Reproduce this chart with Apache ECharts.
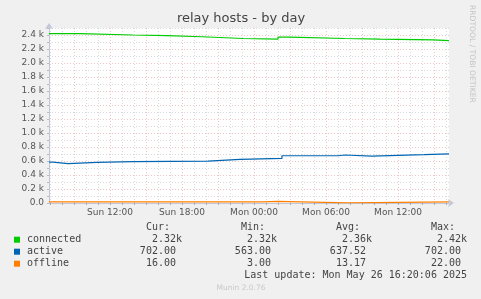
<!DOCTYPE html>
<html><head><meta charset="utf-8">
<script src="https://cdn.jsdelivr.net/npm/echarts@6/dist/echarts.min.js"></script>
<style>html,body{margin:0;padding:0;background:#f0f0f0;}#c{width:481px;height:299px;}</style>
</head><body><div id="c"></div>
<script>
const chartTitle = 'relay hosts - by day';
const seriesNames = ['connected', 'active', 'offline'];
const seriesColors = ['#00cc00', '#0066b3', '#ff8000'];
// hours since Sun 00:00
const connectedTimes = [6.917, 9.5, 13.92, 16.75, 19.67, 23.08, 26.0, 27.0, 31.58, 34.5, 38.92, 40.25];
const connectedValues = [2420, 2400, 2390, 2375, 2350, 2340, 2370, 2350, 2340, 2330, 2320, 2320];
const activeTimes = [6.917, 7.25, 8.5, 10.92, 13.92, 20.17, 22.83, 26.33, 31.0, 31.58, 33.83, 38.17, 40.25];
const activeValues = [585, 563, 580, 590, 597, 623, 637, 675, 686, 671, 690, 702, 702];
const offlineTimes = [6.917, 24.67, 26.0, 31.83, 40.25];
const offlineValues = [15, 22, 3, 16, 16];
const xLabelHours = [12, 18, 24, 30, 36];
const xTickLabels = ['Sun 12:00', 'Sun 18:00', 'Mon 00:00', 'Mon 06:00', 'Mon 12:00'];
const xTickHours = [7,8,9,10,11,12,13,14,15,16,17,18,19,20,21,22,23,24,25,26,27,28,29,30,31,32,33,34,35,36,37,38,39,40];
const legendHeaders = ['Cur:', 'Min:', 'Avg:', 'Max:'];
const legendStats = [
  ['2.32k', '2.32k', '2.36k', '2.42k'],
  ['702.00 ', '563.00 ', '637.52 ', '702.00 '],
  ['16.00 ', '3.00 ', '13.17 ', '22.00 ']
];
const lastUpdate = 'Last update: Mon May 26 16:20:06 2025';
const footer = 'Munin 2.0.76';
const sideText = 'RRDTOOL / TOBI OETIKER';

const timesList = [connectedTimes, activeTimes, offlineTimes];
const valuesList = [connectedValues, activeValues, offlineValues];

const GRID_MINOR = 'rgba(165,165,180,0.42)';
const GRID_MAJOR = 'rgba(220,135,135,0.48)';
const AXIS_C = '#c2c6da';
const MONO = '"DejaVu Sans Mono", monospace';
const SANS = '"DejaVu Sans", sans-serif';

const chart = echarts.init(document.getElementById('c'), null, {renderer: 'canvas'});

const graphics = [];
graphics.push({type: 'text', x: 241, y: 19, style: {text: chartTitle, align: 'center', verticalAlign: 'middle', font: '13px ' + SANS, fill: '#444'}});
graphics.push({type: 'text', x: 472, y: 5, rotation: -Math.PI / 2, style: {text: sideText, align: 'left', verticalAlign: 'middle', font: '7.6px ' + SANS, fill: '#c4c4c4'}});
const rowY = [239.7, 251.7, 263.7];
const headerX = [146, 241, 336, 431];
const valueRight = [182, 277, 372, 467];
legendHeaders.forEach((h, i) => {
  graphics.push({type: 'text', x: headerX[i], y: 227.7, style: {text: h, align: 'left', verticalAlign: 'middle', font: '10px ' + MONO, fill: '#444'}});
});
seriesNames.forEach((n, r) => {
  graphics.push({type: 'rect', shape: {x: 14, y: rowY[r] - 3, width: 6, height: 6}, style: {fill: seriesColors[r]}});
  graphics.push({type: 'text', x: 27, y: rowY[r], style: {text: n, align: 'left', verticalAlign: 'middle', font: '10px ' + MONO, fill: '#444'}});
  legendStats[r].forEach((s, i) => {
    graphics.push({type: 'text', x: valueRight[i], y: rowY[r], style: {text: s, align: 'right', verticalAlign: 'middle', font: '10px ' + MONO, fill: '#444'}});
  });
});
graphics.push({type: 'text', x: 467, y: 275.7, style: {text: lastUpdate, align: 'right', verticalAlign: 'middle', font: '10px ' + MONO, fill: '#444'}});
graphics.push({type: 'text', x: 241, y: 288, style: {text: footer, align: 'center', verticalAlign: 'middle', font: '7.5px ' + SANS, fill: '#c8c8c8'}});

chart.setOption({
  backgroundColor: '#f0f0f0',
  animation: false,
  grid: {left: 49, top: 28, width: 400, height: 175, show: true, backgroundColor: '#ffffff', borderWidth: 0, containLabel: false},
  xAxis: {
    type: 'value', min: 6.917, max: 40.25,
    axisLine: {show: true, lineStyle: {color: AXIS_C, width: 1}, symbol: ['none', 'arrow'], symbolSize: [6, 6], symbolOffset: [0, 5]},
    axisTick: {show: true, customValues: xTickHours, length: 2, lineStyle: {color: '#aaa'}},
    axisLabel: {
      customValues: xLabelHours, margin: 5, fontSize: 9, fontFamily: SANS, color: '#555',
      formatter: v => { const i = xLabelHours.findIndex(h => Math.abs(h - v) < 0.01); return i >= 0 ? xTickLabels[i] : ''; }
    },
    splitLine: {show: true, lineStyle: {color: [GRID_MINOR, GRID_MINOR, GRID_MAJOR], width: 1, type: [1, 2]}}
  },
  yAxis: {
    type: 'value', min: 0, max: 2500, interval: 100,
    axisLine: {show: true, lineStyle: {color: AXIS_C, width: 1}, symbol: ['none', 'arrow'], symbolSize: [6, 6], symbolOffset: [0, 5]},
    axisTick: {show: true, length: 2, lineStyle: {color: '#bbb'}},
    axisLabel: {
      margin: 5, fontSize: 9, fontFamily: SANS, color: '#555',
      formatter: v => (v % 200 === 0 ? (v === 0 ? '0.0' : (v / 1000).toFixed(1) + ' k') : '')
    },
    splitLine: {show: true, lineStyle: {color: [GRID_MAJOR, GRID_MINOR], width: 1, type: [1, 2]}}
  },
  series: seriesNames.map((n, k) => ({
    name: n, type: 'line', step: 'end', showSymbol: false, silent: true,
    data: timesList[k].map((t, i) => [t, valuesList[k][i]]),
    lineStyle: {color: seriesColors[k], width: 1.2},
    itemStyle: {color: seriesColors[k]}
  })),
  graphic: graphics
});
</script>
</body></html>
